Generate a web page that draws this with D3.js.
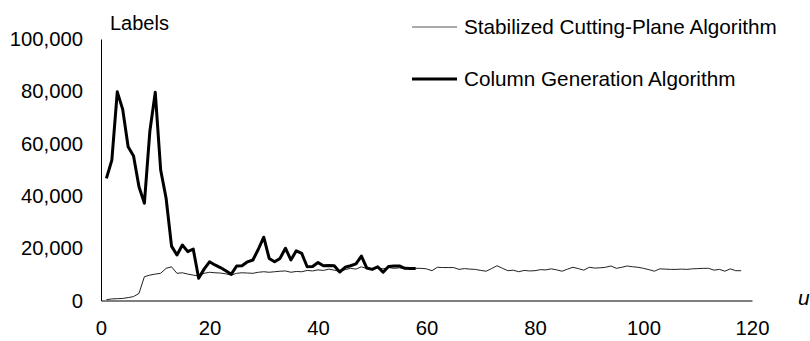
<!DOCTYPE html>
<html>
<head>
<meta charset="utf-8">
<script src="https://cdn.jsdelivr.net/npm/d3@7"></script>
<style>
  body { margin: 0; background: #fff; }
  text { font-family: Arial, "Liberation Sans", sans-serif; fill: #000; }
</style>
</head>
<body>
<div id="chart"></div>
<script>
// chart values (labels, in thousands)
var stabilized = [
  0.3, 0.6, 0.7, 0.8, 1.1, 1.5, 2.7, 9.1, 9.7, 10.1,
  10.4, 12.3, 12.9, 10.4, 10.6, 10.1, 9.7, 9.4, 10.4, 10.8,
  10.6, 10.5, 10.2, 9.7, 10.4, 10.6, 10.5, 10.4, 10.8, 11.0,
  10.8, 11.0, 11.2, 11.3, 10.8, 11.1, 11.0, 11.5, 11.3, 11.7,
  11.5, 12.0, 11.6, 11.1, 11.8, 12.3, 12.0, 12.9, 12.2, 11.9,
  12.4, 12.1, 12.6, 12.3, 12.5, 12.2, 12.4, 12.3, 12.3, 12.1,
  11.4, 12.7, 12.6, 12.6, 12.6, 11.9, 12.2, 12.0, 11.9, 11.5,
  11.2, 12.2, 13.3, 12.3, 11.4, 11.6, 11.0, 11.5, 11.3, 11.4,
  11.8, 11.7, 12.1, 11.7, 11.2, 12.0, 12.7, 12.2, 11.6, 12.7,
  12.4, 12.5, 12.7, 13.2, 12.3, 12.7, 13.2, 12.9, 12.7, 12.3,
  11.8, 11.2, 12.1, 12.0, 11.9, 11.9, 12.0, 11.9, 12.1, 12.2,
  12.3, 12.3, 11.6, 11.9, 11.2, 12.1, 11.4, 11.4
];
var columnGen = [
  46.7, 53.7, 79.8, 73.1, 58.8, 55.3, 43.5, 37.2, 64.6, 79.6,
  49.9, 39.1, 20.8, 17.4, 21.2, 18.7, 19.7, 8.5, 12.0, 14.8,
  13.6, 12.6, 11.4, 10.0, 13.2, 13.3, 14.8, 15.5, 19.6, 24.2,
  16.1, 14.8, 16.1, 20.0, 15.5, 19.0, 18.0, 12.9, 13.0, 14.5,
  13.3, 13.4, 13.3, 10.9, 12.7, 13.3, 14.0, 17.0, 12.4, 11.9,
  12.9, 10.8, 13.0, 13.2, 13.2, 12.3, 12.2, 12.2
];
var xTicks = [0, 20, 40, 60, 80, 100, 120];
var yTicks = [0, 20000, 40000, 60000, 80000, 100000];
var seriesNames = ["Stabilized Cutting-Plane Algorithm", "Column Generation Algorithm"];

var w = 810, h = 341;

var svg = d3.select("#chart").append("svg")
    .attr("width", w)
    .attr("height", h);

var x = d3.scaleLinear().domain([0, 120]).range([101, 752]);
var y = d3.scaleLinear().domain([0, 100000]).range([300.5, 39]);

// y axis
var yAxis = svg.append("g")
    .attr("transform", "translate(101,0)")
    .call(d3.axisLeft(y).tickValues(yTicks).tickSize(0).tickPadding(18)
      .tickFormat(d3.format(",")));
yAxis.select(".domain").attr("stroke", "#000").attr("stroke-width", 1);
yAxis.selectAll("text").style("font-size", "20.3px")
    .style("font-family", "Arial, 'Liberation Sans', sans-serif").attr("fill", "#000");

// x axis
var xAxis = svg.append("g")
    .attr("transform", "translate(0,300.5)")
    .call(d3.axisBottom(x).tickValues(xTicks).tickSize(0).tickPadding(20.5));
xAxis.select(".domain").attr("stroke", "#000").attr("stroke-width", 1.2);
xAxis.selectAll("text").style("font-size", "20.3px")
    .style("font-family", "Arial, 'Liberation Sans', sans-serif").attr("fill", "#000");

// axis titles
svg.append("text").attr("x", 110).attr("y", 30)
   .style("font-size", "20px").text("Labels");
svg.append("text").attr("x", 798).attr("y", 305)
   .style("font-size", "21px").style("font-style", "italic").text("u");

var line = d3.line()
    .x(function(d, i) { return x(i + 1); })
    .y(function(d) { return y(d * 1000); });

// thin series
svg.append("path").datum(stabilized)
   .attr("fill", "none").attr("stroke", "#222").attr("stroke-width", 1)
   .attr("stroke-linejoin", "round")
   .attr("d", line);

// thick series
svg.append("path").datum(columnGen)
   .attr("fill", "none").attr("stroke", "#000").attr("stroke-width", 3)
   .attr("stroke-linejoin", "round")
   .attr("d", line);

// legend
var legend = svg.append("g");
[{ name: seriesNames[0], y: 27, sw: 1, col: "#555" },
 { name: seriesNames[1], y: 79, sw: 3, col: "#000" }].forEach(function(d) {
  legend.append("line").attr("x1", 412).attr("x2", 457)
        .attr("y1", d.y).attr("y2", d.y)
        .attr("stroke", d.col).attr("stroke-width", d.sw);
  legend.append("text").attr("x", 464).attr("y", d.y + 7)
        .style("font-size", "20.7px").text(d.name);
});
</script>
</body>
</html>
